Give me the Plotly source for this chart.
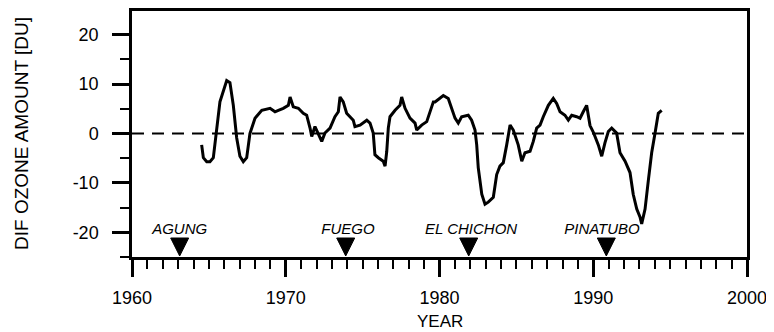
import plotly.graph_objects as go

# Ozone anomaly series
years = [1964.53, 1964.64, 1964.86, 1965.07, 1965.29, 1965.51, 1965.72, 1966.16, 1966.37, 1966.59,
         1966.81, 1967.02, 1967.24, 1967.46, 1967.67, 1968.00, 1968.44, 1968.98, 1969.30, 1969.52,
         1969.84, 1970.17, 1970.28, 1970.49, 1970.82, 1971.14, 1971.36, 1971.58, 1971.69, 1971.90,
         1972.12, 1972.34, 1972.55, 1972.88, 1973.20, 1973.42, 1973.53, 1973.74, 1973.96, 1974.39,
         1974.50, 1974.83, 1975.27, 1975.48, 1975.69, 1975.80, 1976.02, 1976.34, 1976.46, 1976.57,
         1976.67, 1976.78, 1977.11, 1977.43, 1977.54, 1977.76, 1978.08, 1978.41, 1978.52, 1978.84,
         1979.17, 1979.38, 1979.60, 1979.71, 1980.03, 1980.25, 1980.57, 1980.79, 1981.01, 1981.22,
         1981.44, 1981.87, 1982.09, 1982.31, 1982.42, 1982.52, 1982.75, 1982.96, 1983.17, 1983.50,
         1983.72, 1983.93, 1984.15, 1984.37, 1984.59, 1984.80, 1985.12, 1985.35, 1985.56, 1985.89,
         1986.10, 1986.32, 1986.54, 1986.75, 1987.08, 1987.40, 1987.62, 1987.84, 1988.16, 1988.38,
         1988.60, 1988.92, 1989.14, 1989.35, 1989.57, 1989.79, 1990.00, 1990.33, 1990.55, 1990.76,
         1990.98, 1991.20, 1991.52, 1991.74, 1992.07, 1992.39, 1992.60, 1992.83, 1993.04, 1993.15,
         1993.37, 1993.58, 1993.80, 1994.02, 1994.13, 1994.23, 1994.45]
ozone = [-2.3, -4.9, -5.7, -5.7, -4.9, 0.4, 6.4, 10.7, 10.3, 5.7,
         -0.9, -4.6, -5.7, -4.9, 0.0, 3.1, 4.7, 5.1, 4.4, 4.7,
         5.1, 5.7, 7.4, 5.4, 5.1, 4.1, 3.7, 1.1, -0.6, 1.4,
         0.0, -1.6, 0.1, 1.1, 3.4, 4.4, 7.4, 6.4, 4.1, 2.7,
         1.4, 1.7, 2.7, 2.1, 0.1, -4.3, -4.9, -5.6, -6.6, -3.6,
         1.1, 3.4, 4.7, 5.7, 7.4, 5.1, 3.1, 2.1, 0.7, 1.7,
         2.4, 4.4, 6.4, 6.4, 7.1, 7.7, 7.1, 5.1, 3.1, 2.1,
         3.4, 3.7, 2.7, 0.7, -2.3, -6.9, -12.3, -14.3, -13.9, -12.9,
         -8.3, -6.6, -5.9, -2.3, 1.7, 0.7, -2.3, -5.6, -3.9, -3.6,
         -1.6, 1.1, 1.7, 3.4, 5.7, 7.1, 6.1, 4.4, 3.7, 2.7,
         3.7, 3.4, 3.1, 4.4, 5.7, 1.6, 0.3, -2.3, -4.6, -1.9,
         0.4, 1.1, 0.1, -3.9, -5.6, -7.9, -12.3, -15.3, -16.9, -18.3,
         -15.3, -9.6, -3.9, 0.1, 2.4, 4.1, 4.7]

# Volcanic eruptions
volcano_names = ["AGUNG", "FUEGO", "EL CHICHON", "PINATUBO"]
volcano_years = [1963.1, 1973.9, 1981.9, 1990.85]
volcano_label_years = [1963.1, 1974.05, 1982.05, 1990.57]
label_level = -19.6

# Axes
x_range = [1960, 2000]
y_range = [-25, 24.8]
x_tick_vals = [1960, 1970, 1980, 1990, 2000]
x_tick_text = ["1960", "1970", "1980", "1990", "2000"]
y_tick_vals = [-20, -10, 0, 10, 20]
y_tick_text = ["-20", "-10", "0", "10", "20"]
zero_line_x = [1960, 2000]
zero_line_y = [0, 0]
x_title = "YEAR"
y_title = "DIF OZONE AMOUNT [DU]"

FONT = "Liberation Sans, Arial, Helvetica, sans-serif"

fig = go.Figure()

fig.add_trace(go.Scatter(
    x=zero_line_x, y=zero_line_y, mode="lines",
    line=dict(color="black", width=2, dash="12px,8px"),
    hoverinfo="skip", showlegend=False,
))

fig.add_trace(go.Scatter(
    x=years, y=ozone, mode="lines",
    line=dict(color="black", width=3),
    showlegend=False,
))

fig.add_trace(go.Scatter(
    x=volcano_label_years, y=[label_level] * len(volcano_label_years), mode="text",
    text=[f"<i>{n}</i>" for n in volcano_names],
    textfont=dict(family=FONT, size=15, color="black"),
    textposition="middle center",
    cliponaxis=False, showlegend=False,
))

# eruption triangles, anchored at each eruption year on the x axis (pixel-sized)
for vy in volcano_years:
    fig.add_shape(
        type="path", xref="x", yref="y",
        xsizemode="pixel", ysizemode="pixel",
        xanchor=vy, yanchor=y_range[0],
        path="M-9,19 L9,19 L0,1 Z",
        fillcolor="black", line=dict(color="black", width=1),
    )

fig.update_layout(
    width=774, height=332,
    margin=dict(l=124, r=35, t=0, b=83),
    paper_bgcolor="white", plot_bgcolor="white",
    font=dict(family=FONT, color="black"),
    annotations=[
        dict(text=y_title, xref="paper", yref="paper", x=-0.1805, y=0.504,
             xanchor="center", yanchor="middle", textangle=-90, showarrow=False,
             font=dict(family=FONT, size=19, color="black")),
        dict(text=x_title, xref="paper", yref="paper", x=0.5008, y=-0.261,
             xanchor="center", yanchor="middle", showarrow=False,
             font=dict(family=FONT, size=17, color="black")),
    ],
)

fig.update_xaxes(
    range=x_range, tickvals=x_tick_vals, ticktext=x_tick_text,
    showgrid=False, zeroline=False,
    showline=True, linecolor="black", linewidth=2.5, mirror=True,
    ticks="outside", ticklen=17, tickwidth=2.5, tickcolor="black",
    tickfont=dict(family=FONT, size=18, color="black"),
    ticklabelstandoff=6,
    minor=dict(dtick=1, ticks="outside", ticklen=9, tickwidth=2, tickcolor="black", showgrid=False),
)

fig.update_yaxes(
    range=y_range, tickvals=y_tick_vals, ticktext=y_tick_text,
    showgrid=False, zeroline=False,
    showline=True, linecolor="black", linewidth=2.5, mirror=True,
    ticks="outside", ticklen=17, tickwidth=2.5, tickcolor="black",
    tickfont=dict(family=FONT, size=18, color="black"),
    ticklabelstandoff=10,
    minor=dict(dtick=5, ticks="outside", ticklen=9, tickwidth=2, tickcolor="black", showgrid=False),
)

fig.write_html("out.html")
